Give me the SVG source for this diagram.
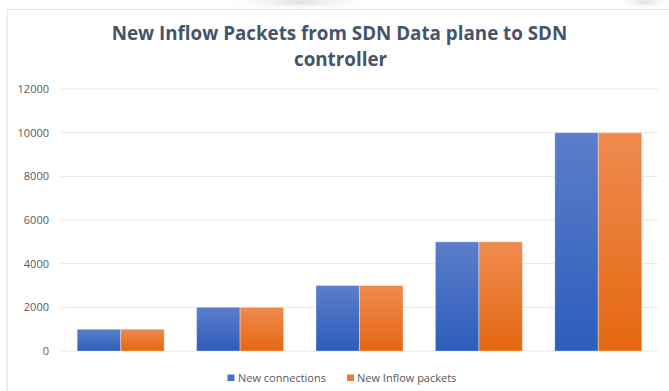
<svg xmlns="http://www.w3.org/2000/svg" width="669" height="391" viewBox="0 0 669 391">
  <defs>
    <linearGradient id="gBlue" x1="0" y1="0" x2="0" y2="1">
      <stop offset="0" stop-color="#5B7EC9"/>
      <stop offset="1" stop-color="#2D5DBD"/>
    </linearGradient>
    <linearGradient id="gOrange" x1="0" y1="0" x2="0" y2="1">
      <stop offset="0" stop-color="#EF8B50"/>
      <stop offset="1" stop-color="#E4670F"/>
    </linearGradient>
    <radialGradient id="gHaze" cx="0.5" cy="0.5" r="0.5">
      <stop offset="0" stop-color="#C8C8C8"/>
      <stop offset="1" stop-color="#FFFFFF" stop-opacity="0"/>
    </radialGradient>
  </defs>
  <style>
    .title { font-family: "Open Sans", "Liberation Sans", sans-serif; font-weight: bold; font-size: 18.8px; fill: #44546A; text-anchor: middle; }
    .tick { font-family: "Open Sans", "Liberation Sans", sans-serif; font-size: 11px; fill: #595959; text-anchor: end; }
    .legend { font-family: "Open Sans", "Liberation Sans", sans-serif; font-size: 11px; fill: #595959; }
    .grid { stroke: #E3E6EA; stroke-width: 1; }
    .bar { stroke: #FFFFFF; stroke-opacity: 0.35; stroke-width: 1; }
    .blue { fill: url(#gBlue); }
    .orange { fill: url(#gOrange); }
  </style>

  <!-- page background with faint shapes above the chart frame -->
  <rect x="0" y="0" width="669" height="391" fill="#FFFFFF"/>
  <ellipse cx="300" cy="2" rx="80" ry="10" fill="url(#gHaze)" opacity="0.6"/>
  <ellipse cx="645" cy="2" rx="30" ry="8" fill="url(#gHaze)" opacity="0.6"/>

  <!-- chart frame -->
  <rect x="7" y="9.5" width="670" height="390" fill="#FFFFFF" stroke="#E4E4E4" stroke-width="1"/>

  <g id="title">
    <text class="title" x="339.5" y="40">New Inflow Packets from SDN Data plane to SDN</text>
    <text class="title" x="340.5" y="66">controller</text>
  </g>

  <!-- value axis: gridlines every 2000 -->
  <g id="gridlines">
    <line class="grid" x1="61" y1="89" x2="658" y2="89"/>
    <line class="grid" x1="61" y1="132.7" x2="658" y2="132.7"/>
    <line class="grid" x1="61" y1="176.3" x2="658" y2="176.3"/>
    <line class="grid" x1="61" y1="220" x2="658" y2="220"/>
    <line class="grid" x1="61" y1="263.7" x2="658" y2="263.7"/>
    <line class="grid" x1="61" y1="307.3" x2="658" y2="307.3"/>
    <line class="grid" x1="61" y1="351" x2="658" y2="351"/>
  </g>
  <g id="axis-labels">
    <text class="tick" x="49" y="92.8">12000</text>
    <text class="tick" x="49" y="136.5">10000</text>
    <text class="tick" x="49" y="180.1">8000</text>
    <text class="tick" x="49" y="223.8">6000</text>
    <text class="tick" x="49" y="267.5">4000</text>
    <text class="tick" x="49" y="311.1">2000</text>
    <text class="tick" x="49" y="354.8">0</text>
  </g>

  <!-- bars: scale 21.83 px per 1000, baseline y=351 -->
  <g id="group-1">
    <rect class="bar blue" x="77.2" y="329.2" width="43.5" height="21.8"/>
    <rect class="bar orange" x="120.7" y="329.2" width="43.5" height="21.8"/>
  </g>
  <g id="group-2">
    <rect class="bar blue" x="196.6" y="307.3" width="43.5" height="43.7"/>
    <rect class="bar orange" x="240.1" y="307.3" width="43.5" height="43.7"/>
  </g>
  <g id="group-3">
    <rect class="bar blue" x="316" y="285.5" width="43.5" height="65.5"/>
    <rect class="bar orange" x="359.5" y="285.5" width="43.5" height="65.5"/>
  </g>
  <g id="group-4">
    <rect class="bar blue" x="435.4" y="241.8" width="43.5" height="109.2"/>
    <rect class="bar orange" x="478.9" y="241.8" width="43.5" height="109.2"/>
  </g>
  <g id="group-5">
    <rect class="bar blue" x="554.8" y="132.7" width="43.5" height="218.3"/>
    <rect class="bar orange" x="598.3" y="132.7" width="43.5" height="218.3"/>
  </g>

  <g id="legend">
    <rect x="227.5" y="374.5" width="7" height="6.5" fill="#4472C4"/>
    <text class="legend" x="238" y="381.5">New connections</text>
    <rect x="347" y="374.5" width="7" height="6.5" fill="#ED7D31"/>
    <text class="legend" x="357" y="381.5">New Inflow packets</text>
  </g>
</svg>
